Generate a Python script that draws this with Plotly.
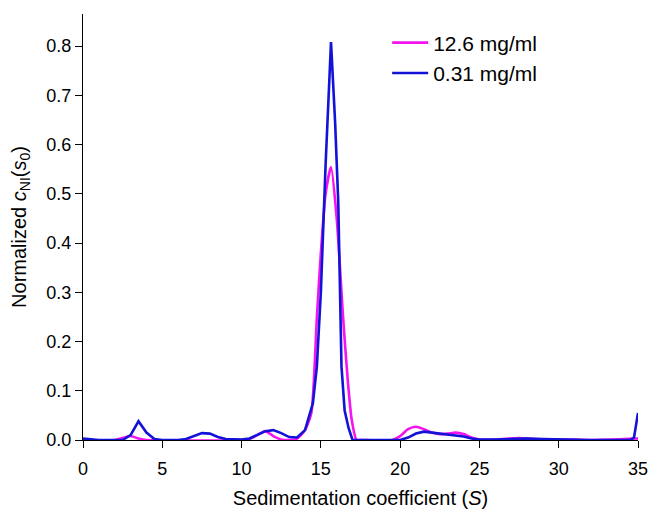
import plotly.graph_objects as go

# Sedimentation coefficient (S) sample points and normalized c(s) values
s_blue = [0, 0.5, 1, 2, 2.5, 3, 3.5, 4, 4.5, 5, 6, 6.5, 7, 7.5, 8, 8.5, 9, 9.5, 10,
          10.5, 11, 11.5, 12, 12.5, 13, 13.5, 14, 14.5, 14.75, 15.0, 15.3, 15.64,
          15.9, 16.1, 16.3, 16.5, 16.75, 17, 18, 19, 20, 20.5, 21, 21.5, 22, 22.5,
          23, 23.5, 24, 24.5, 25, 26, 27, 28, 29, 30, 31, 32, 33, 34, 34.5, 34.75, 35]
c_blue = [0.003, 0.002, 0.0, 0.0, 0.0, 0.01, 0.038, 0.015, 0.002, 0.0, 0.0, 0.002,
          0.008, 0.014, 0.013, 0.006, 0.002, 0.001, 0.001, 0.003, 0.01, 0.018, 0.02,
          0.014, 0.006, 0.005, 0.02, 0.075, 0.15, 0.3, 0.56, 0.808, 0.645, 0.48, 0.15,
          0.06, 0.024, 0.0, 0.0, 0.0, 0.0, 0.005, 0.013, 0.017, 0.015, 0.012, 0.01,
          0.009, 0.007, 0.003, 0.001, 0.001, 0.002, 0.003, 0.002, 0.001, 0.0, 0.0,
          0.0, 0.0, 0.0, 0.005, 0.055]

s_mag = [0, 2, 2.5, 3, 3.5, 4, 10, 10.5, 11, 11.5, 12, 12.5, 13, 13.5, 14, 14.4,
         14.75, 15.0, 15.3, 15.64, 16.0, 16.4, 16.7, 16.95, 17.25, 17.5, 19.5, 20,
         20.5, 21, 21.5, 22, 22.5, 23, 23.5, 24, 24.5, 25, 26, 27, 27.5, 28, 29, 30,
         31, 32, 35]
c_mag = [0.0, 0.0, 0.004, 0.008, 0.003, 0.0, 0.0, 0.002, 0.01, 0.018, 0.008, 0.001,
         0.0, 0.003, 0.02, 0.055, 0.25, 0.38, 0.5, 0.554, 0.45, 0.25, 0.12, 0.04,
         0.0, 0.0, 0.0, 0.008, 0.022, 0.027, 0.022, 0.015, 0.012, 0.013, 0.015,
         0.012, 0.005, 0.001, 0.001, 0.003, 0.004, 0.003, 0.001, 0.001, 0.001, 0.0,
         0.003]

x_ticks = [0, 5, 10, 15, 20, 25, 30, 35]
y_ticks = [0.0, 0.1, 0.2, 0.3, 0.4, 0.5, 0.6, 0.7, 0.8]
y_tick_labels = ["0.0", "0.1", "0.2", "0.3", "0.4", "0.5", "0.6", "0.7", "0.8"]

fig = go.Figure()
fig.add_trace(go.Scatter(x=s_mag, y=c_mag, mode="lines", name="12.6 mg/ml",
                         line=dict(color="#F514F0", width=2.6, shape="spline", smoothing=0.6)))
fig.add_trace(go.Scatter(x=s_blue, y=c_blue, mode="lines", name="0.31 mg/ml",
                         line=dict(color="#1212D8", width=2.6)))

font = "Liberation Sans, Arial, Helvetica, sans-serif"
fig.update_layout(
    width=651, height=511, autosize=False,
    margin=dict(l=83, r=13, t=14, b=71, autoexpand=False),
    paper_bgcolor="white", plot_bgcolor="white",
    font=dict(family=font, size=18, color="black"),
    showlegend=True,
    legend=dict(x=0.548, y=0.98, xanchor="left", yanchor="top",
                bgcolor="rgba(0,0,0,0)", font=dict(size=21), itemwidth=36),
    xaxis=dict(range=[0, 35], tickvals=x_ticks, showgrid=False, zeroline=False,
               automargin=False,
               showline=True, linecolor="black", linewidth=1.3,
               ticks="outside", ticklen=7, tickcolor="black", tickwidth=1.3,
               ticklabelstandoff=5, tickfont=dict(size=18),
               title=dict(text="Sedimentation coefficient (<i>S</i>)", standoff=13,
                          font=dict(size=20))),
    yaxis=dict(range=[0, 0.865], tickvals=y_ticks, ticktext=y_tick_labels,
               showgrid=False, zeroline=False, automargin=False,
               showline=True, linecolor="black", linewidth=1.3,
               ticks="outside", ticklen=7, tickcolor="black", tickwidth=1.3,
               tickfont=dict(size=18),
               title=dict(text="Normalized <i>c</i><sub>NI</sub>(<i>s</i><sub>0</sub>)",
                          standoff=14, font=dict(size=20))),
)

fig.write_html("out.html",
               config={"displayModeBar": False, "responsive": False},
               post_script="document.body.style.margin='0';document.body.style.overflow='hidden';")
